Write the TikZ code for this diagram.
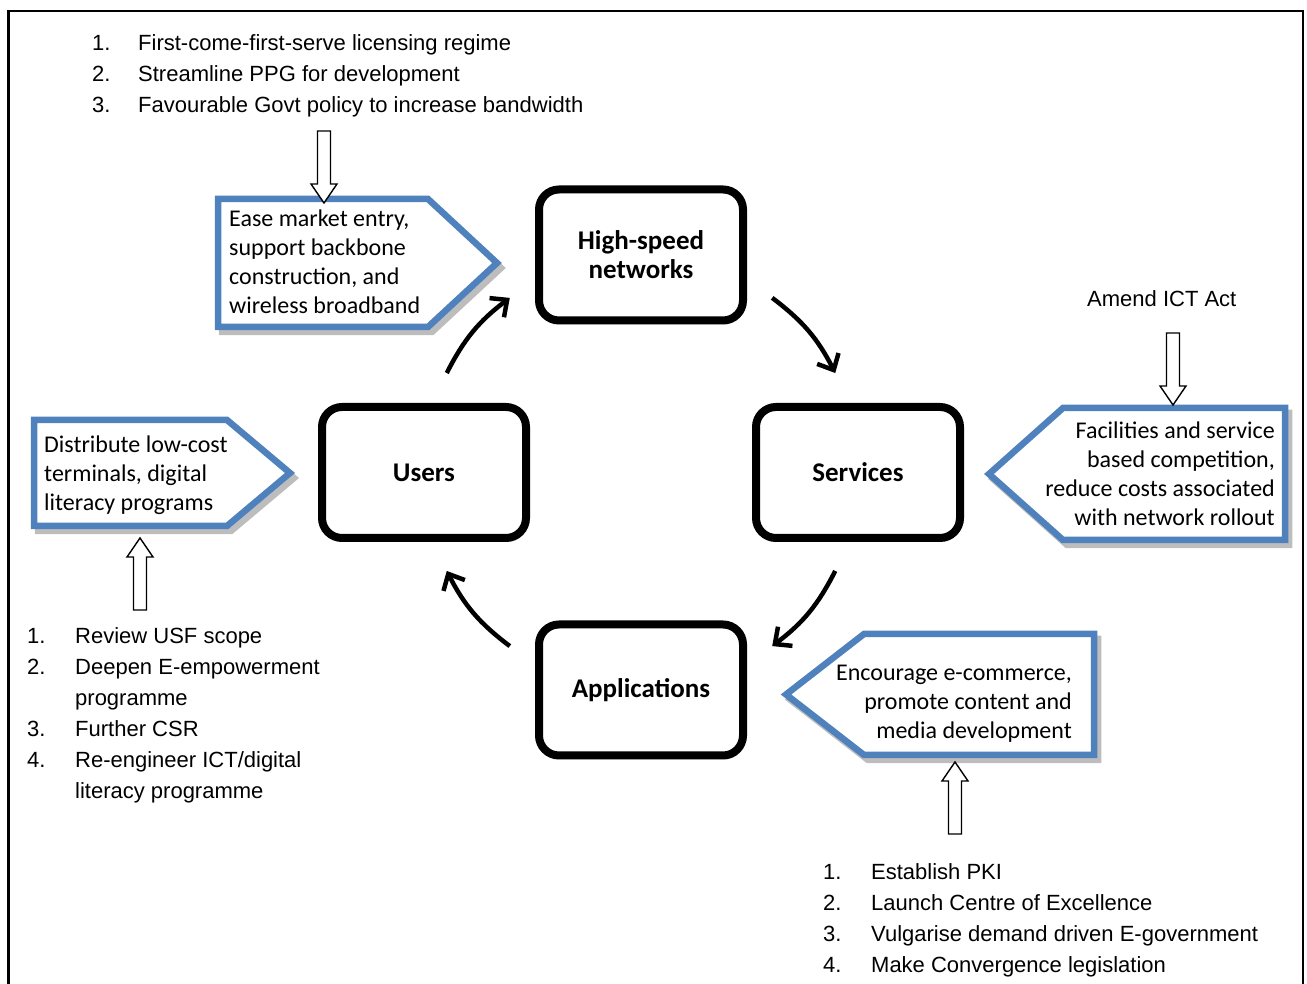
\documentclass[tikz,border=0pt]{standalone}
\usepackage{fontspec}
\setmainfont{Liberation Sans}
\newfontfamily\calfont{Carlito}
\newfontfamily\arifont{Liberation Sans}
\usetikzlibrary{arrows.meta,shadows}
\definecolor{pblue}{HTML}{4F81BD}
\definecolor{pshade}{HTML}{BDBDBD}
\begin{document}
\begin{tikzpicture}[x=1pt,y=1pt,
  cbox/.style={draw, line width=8, rounded corners=20, minimum width=204, minimum height=131,
    fill=white, align=center, font=\calfont\bfseries\fontsize{27}{29}\selectfont,
    drop shadow={shadow xshift=2pt, shadow yshift=-4pt, opacity=0.22}},
  pent/.style={draw=pblue, line width=6.5, fill=white, line join=miter},
  pshad/.style={draw=pshade, line width=6.5, line join=miter},
  ptxt/.style={inner sep=0, font=\calfont\fontsize{24}{29}\selectfont},
  ltxt/.style={inner sep=0, font=\arifont\fontsize{22}{31}\selectfont},
  cyc/.style={line width=4.5, -{Straight Barb[length=13pt,width=24pt]}},
  harrow/.pic={\draw[line width=1.4, fill=white, line join=miter] (0,0)--(-13,-19)--(-6.5,-19)--(-6.5,-72)--(6.5,-72)--(6.5,-19)--(13,-19)--cycle;}
]
\useasboundingbox (0,0) rectangle (1307,984);
% frame
\draw[line width=2.5] (8.5,0)--(8.5,973)--(1303,973)--(1303,0);

% pentagons
\draw[pshad, shift={(4,-5)}] (218,785)--(428,785)--(497,721)--(428,657)--(218,657)--cycle;
\draw[pent] (218,785)--(428,785)--(497,721)--(428,657)--(218,657)--cycle;
\draw[pshad, shift={(4,-5)}] (34,564)--(227,564)--(290,511)--(227,458)--(34,458)--cycle;
\draw[pent] (34,564)--(227,564)--(290,511)--(227,458)--(34,458)--cycle;
\draw[pshad, shift={(4,-5)}] (1285,576)--(1063,576)--(989,510)--(1063,444)--(1285,444)--cycle;
\draw[pent] (1285,576)--(1063,576)--(989,510)--(1063,444)--(1285,444)--cycle;
\draw[pshad, shift={(4,-5)}] (1094,350)--(864,350)--(786,289.5)--(864,229)--(1094,229)--cycle;
\draw[pent] (1094,350)--(864,350)--(786,289.5)--(864,229)--(1094,229)--cycle;

\node[ptxt, anchor=base west] (t1) at (229,757) {\begin{tabular}[t]{@{}l@{}}Ease market entry,\\support backbone\\construction, and\\wireless broadband\end{tabular}};
\node[ptxt, anchor=base west] (t2) at (44,531) {\begin{tabular}[t]{@{}l@{}}Distribute low-cost\\terminals, digital\\literacy programs\end{tabular}};
\node[ptxt, anchor=base east] (t3) at (1275,545) {\begin{tabular}[t]{@{}r@{}}Facilities and service\\based competition,\\reduce costs associated\\with network rollout\end{tabular}};
\node[ptxt, anchor=base east] (t4) at (1072,303) {\begin{tabular}[t]{@{}r@{}}Encourage e-commerce,\\promote content and\\media development\end{tabular}};

% central boxes
\node[cbox] (hs) at (641,729) {High-speed\\networks};
\node[cbox] (users) at (424,511.5) {Users};
\node[cbox] (svc) at (858,511.5) {Services};
\node[cbox] (apps) at (641,294) {Applications};

% cycle arrows
\coordinate (ctr) at (641,512);
\path (ctr) ++(153:218) coordinate (a1s) (ctr) ++(127:218) coordinate (a1e);
\path (ctr) ++(53:218) coordinate (a2s) (ctr) ++(27:218) coordinate (a2e);
\path (ctr) ++(-27:218) coordinate (a3s) (ctr) ++(-53:218) coordinate (a3e);
\path (ctr) ++(-127:218) coordinate (a4s) (ctr) ++(-153:218) coordinate (a4e);
\draw[cyc] (a1s) to[bend left=13] (a1e);
\draw[cyc] (a2s) to[bend left=13] (a2e);
\draw[cyc] (a3s) to[bend left=13] (a3e);
\draw[cyc] (a4s) to[bend left=13] (a4e);

% hollow arrows
\pic[rotate=180] at (324,781) {harrow};
\pic[rotate=180] at (1173,579) {harrow};
\pic at (140,446) {harrow};
\pic at (955,222) {harrow};

% lists
\node[ltxt, anchor=base west] (l1) at (92,933) {\begin{tabular}[t]{@{}p{46pt}@{}l@{}}1.&First-come-first-serve licensing regime\\2.&Streamline PPG for development\\3.&Favourable Govt policy to increase bandwidth\end{tabular}};
\node[ltxt, anchor=base west] (amend) at (1087,677) {Amend ICT Act};
\node[ltxt, anchor=base west] (l2) at (27,340) {\begin{tabular}[t]{@{}p{48pt}@{}l@{}}1.&Review USF scope\\2.&Deepen E-empowerment\\&programme\\3.&Further CSR\\4.&Re-engineer ICT/digital\\&literacy programme\end{tabular}};
\node[ltxt, anchor=base west] (l3) at (823,104) {\begin{tabular}[t]{@{}p{48pt}@{}l@{}}1.&Establish PKI\\2.&Launch Centre of Excellence\\3.&Vulgarise demand driven E-government\\4.&Make Convergence legislation\end{tabular}};
\end{tikzpicture}
\end{document}
